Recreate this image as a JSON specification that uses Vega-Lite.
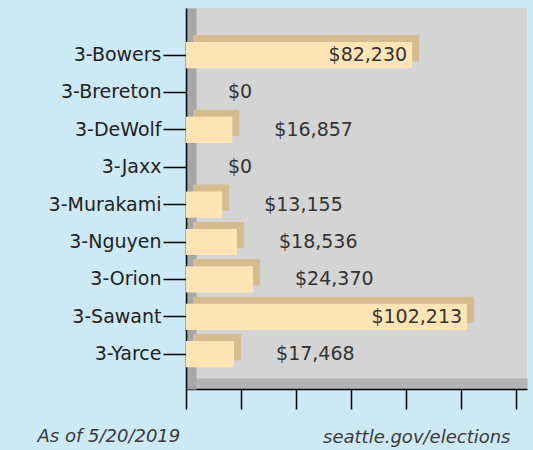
{
  "$schema": "https://vega.github.io/schema/vega-lite/v6.json",
  "width": 341,
  "height": 381,
  "autosize": {"type": "none"},
  "padding": {"left": 186, "top": 8, "right": 6, "bottom": 61},
  "background": "#CDE9F6",
  "config": {
    "view": {"fill": "#D4D4D4", "stroke": null},
    "font": "DejaVu Sans",
    "axis": {"grid": false}
  },
  "data": {
    "values": [
      {"name": "3-Bowers", "amount": 82230},
      {"name": "3-Brereton", "amount": 0},
      {"name": "3-DeWolf", "amount": 16857},
      {"name": "3-Jaxx", "amount": 0},
      {"name": "3-Murakami", "amount": 13155},
      {"name": "3-Nguyen", "amount": 18536},
      {"name": "3-Orion", "amount": 24370},
      {"name": "3-Sawant", "amount": 102213},
      {"name": "3-Yarce", "amount": 17468}
    ]
  },
  "resolve": {"axis": {"x": "independent", "y": "independent"}},
  "layer": [
    {
      "mark": {"type": "bar", "color": "#D5BC8E", "xOffset": 7, "yOffset": -7},
      "encoding": {
        "y": {"field": "name", "type": "nominal", "sort": null,
          "scale": {"paddingInner": 0.3, "paddingOuter": 0.745, "align": 0.61},
          "axis": {"orient": "left", "domainColor": "#A6A6A6", "domainWidth": 10, "offset": -5, "ticks": false, "labels": false, "title": null}},
        "x": {"field": "amount", "type": "quantitative",
          "scale": {"domain": [0, 124000], "nice": false, "zero": true},
          "axis": {"orient": "bottom", "domainColor": "#B4B4B4", "domainWidth": 11, "offset": -5.5, "ticks": false, "labels": false,
            "title": "As of 5/20/2019", "titleX": -149, "titleY": 53, "titleAlign": "left", "titleBaseline": "middle",
            "titleFontStyle": "italic", "titleFontWeight": "normal", "titleFontSize": 18, "titleColor": "#3A3A3A", "titleFont": "DejaVu Sans"}}
      }
    },
    {
      "mark": {"type": "bar", "color": "#FFE4B5"},
      "encoding": {
        "y": {"field": "name", "type": "nominal", "sort": null,
          "axis": {"orient": "left", "domainColor": "#000000", "domainWidth": 1.5, "tickColor": "#000000", "tickSize": 23, "tickWidth": 1.5,
            "labelFontSize": 19, "labelColor": "#222222", "labelPadding": 2, "labelFont": "DejaVu Sans", "title": null}},
        "x": {"field": "amount", "type": "quantitative",
          "axis": {"orient": "bottom", "values": [0, 20000, 40000, 60000, 80000, 100000, 120000], "labels": false,
            "domainColor": "#000000", "domainWidth": 1.5, "tickColor": "#000000", "tickSize": 20, "tickWidth": 1.5,
            "title": "seattle.gov/elections", "titleX": 324, "titleY": 48, "titleAlign": "right", "titleBaseline": "middle",
            "titleFontStyle": "italic", "titleFontWeight": "normal", "titleFontSize": 18, "titleColor": "#3A3A3A", "titleFont": "DejaVu Sans"}}
      }
    },
    {
      "transform": [{"filter": "datum.amount > 50000"}],
      "mark": {"type": "text", "align": "right", "dx": -5, "fontSize": 19, "color": "#333333", "font": "DejaVu Sans"},
      "encoding": {
        "y": {"field": "name", "type": "nominal", "sort": null, "axis": null},
        "x": {"field": "amount", "type": "quantitative", "axis": null},
        "text": {"field": "amount", "type": "quantitative", "format": "$,.0f"}
      }
    },
    {
      "transform": [{"filter": "datum.amount <= 50000"}],
      "mark": {"type": "text", "align": "left", "dx": 42, "fontSize": 19, "color": "#333333", "font": "DejaVu Sans"},
      "encoding": {
        "y": {"field": "name", "type": "nominal", "sort": null, "axis": null},
        "x": {"field": "amount", "type": "quantitative", "axis": null},
        "text": {"field": "amount", "type": "quantitative", "format": "$,.0f"}
      }
    }
  ]
}
